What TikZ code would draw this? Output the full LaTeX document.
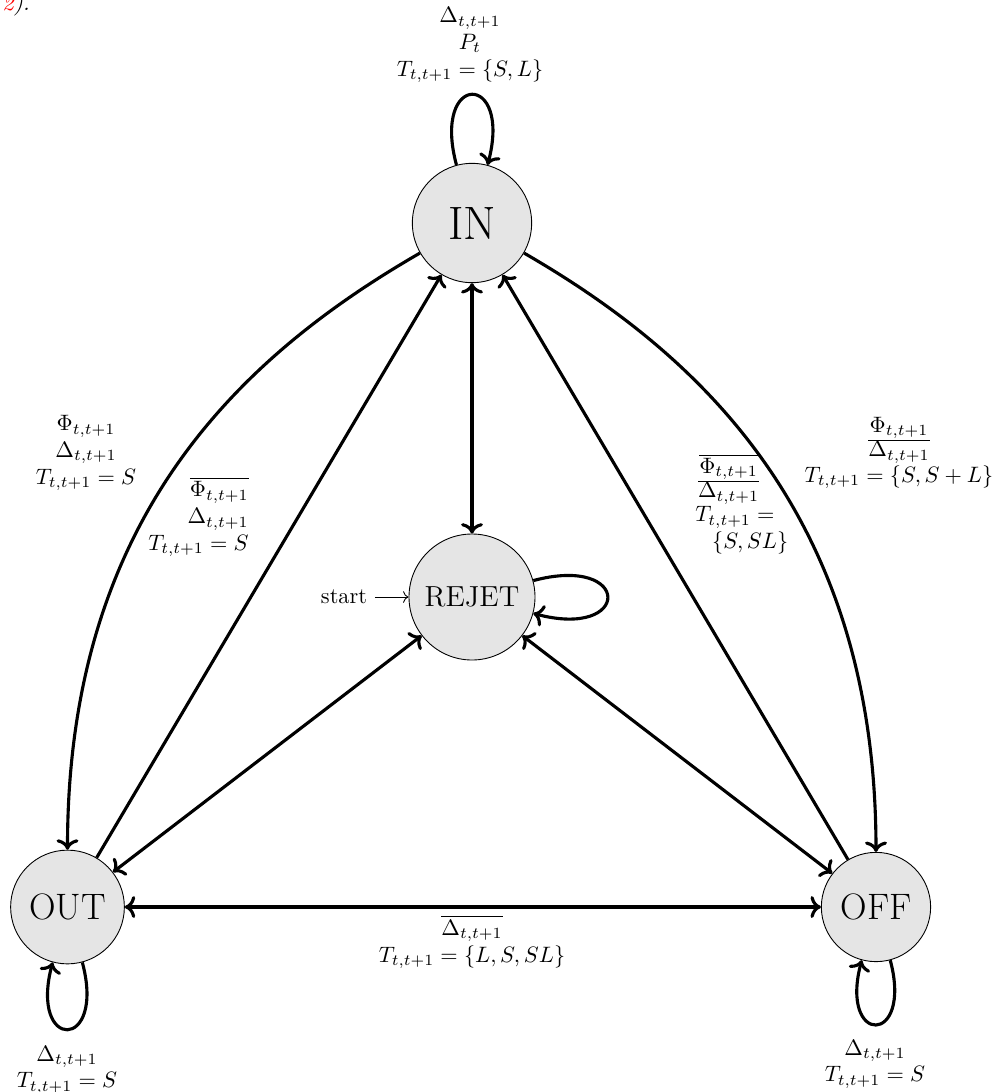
\RequirePackage{fix-cm}
\documentclass[tikz,border=0pt]{standalone}
\usetikzlibrary{arrows.meta}
\begin{document}
\begin{tikzpicture}[x=0.4484pt,y=-0.4484pt,
  stnode/.style={circle, draw, line width=0.4pt, fill=black!10, inner sep=0pt},
  trans/.style={line width=1.4pt, ->},
  lbl/.style={align=center, inner sep=0pt}]
\useasboundingbox (0,0) rectangle (995,1092);
\clip (0,0) rectangle (995,1092);
% fragment of surrounding text
\node[anchor=base west, inner sep=0pt] (frag) at (2,10) {\itshape\textcolor{red}{2}).};
% states
\node[stnode, minimum size=53.5pt, font=\fontsize{21}{25}\selectfont] (IN) at (472,223) {IN};
\node[stnode, minimum size=56.5pt, font=\fontsize{13}{15}\selectfont] (REJET) at (472,597) {REJET};
\node[stnode, minimum size=51pt, font=\fontsize{16.5}{19}\selectfont] (OUT) at (67.5,907) {OUT};
\node[stnode, minimum size=49pt, font=\fontsize{16.5}{19}\selectfont] (OFF) at (876,907) {OFF};
% initial
\node (start) at (344,597) {start};
\draw[->] (start) -- (REJET);
% transitions
\draw[trans] (IN) to[loop above] (IN);
\draw[trans] (REJET) to[loop right] (REJET);
\draw[trans] (OUT) to[loop below] (OUT);
\draw[trans] (OFF) to[loop below] (OFF);
\draw[trans,<->] (IN) -- (REJET);
\draw[trans,<->] (REJET) -- (OUT);
\draw[trans,<->] (REJET) -- (OFF);
\draw[trans,<->] (OUT) -- (OFF);
\draw[trans] (IN.210) .. controls +(-181.9,105) and +(0,-330) .. (OUT.north);
\draw[trans] (IN.-30) .. controls +(181.9,105) and +(0,-330) .. (OFF.north);
\draw[trans] (OUT) -- (IN);
\draw[trans] (OFF) -- (IN);
% labels
\node[lbl] (ltop) at (470,45) {$\Delta_{t,t+1}$\\ $P_t$\\ $T_{t,t+1}=\{S,L\}$};
\node[lbl] (lleft) at (86,453) {$\Phi_{t,t+1}$\\ $\Delta_{t,t+1}$\\ $T_{t,t+1}=S$};
\node[lbl, align=right, anchor=east] (lmidl) at (249,517) {$\overline{\Phi_{t,t+1}}$\\ $\Delta_{t,t+1}$\\ $T_{t,t+1}=S$};
\node[lbl, align=left, anchor=west] (lmidr) at (695,504) {$\frac{\textstyle\overline{\Phi_{t,t+1}}}{\textstyle\Delta_{t,t+1}}$\\ $T_{t,t+1}=$\\ \hspace*{7.5pt}$\{S,SL\}$};
\node[lbl] (lright) at (899,453) {$\frac{\textstyle\Phi_{t,t+1}}{\textstyle\Delta_{t,t+1}}$\\ $T_{t,t+1}=\{S,S+L\}$};
\node[lbl] (lbot) at (472,942) {$\overline{\Delta_{t,t+1}}$\\ $T_{t,t+1}=\{L,S,SL\}$};
\node[lbl] (lout) at (67,1070) {$\Delta_{t,t+1}$\\ $T_{t,t+1}=S$};
\node[lbl] (loff) at (875,1064) {$\Delta_{t,t+1}$\\ $T_{t,t+1}=S$};
\end{tikzpicture}
\end{document}
